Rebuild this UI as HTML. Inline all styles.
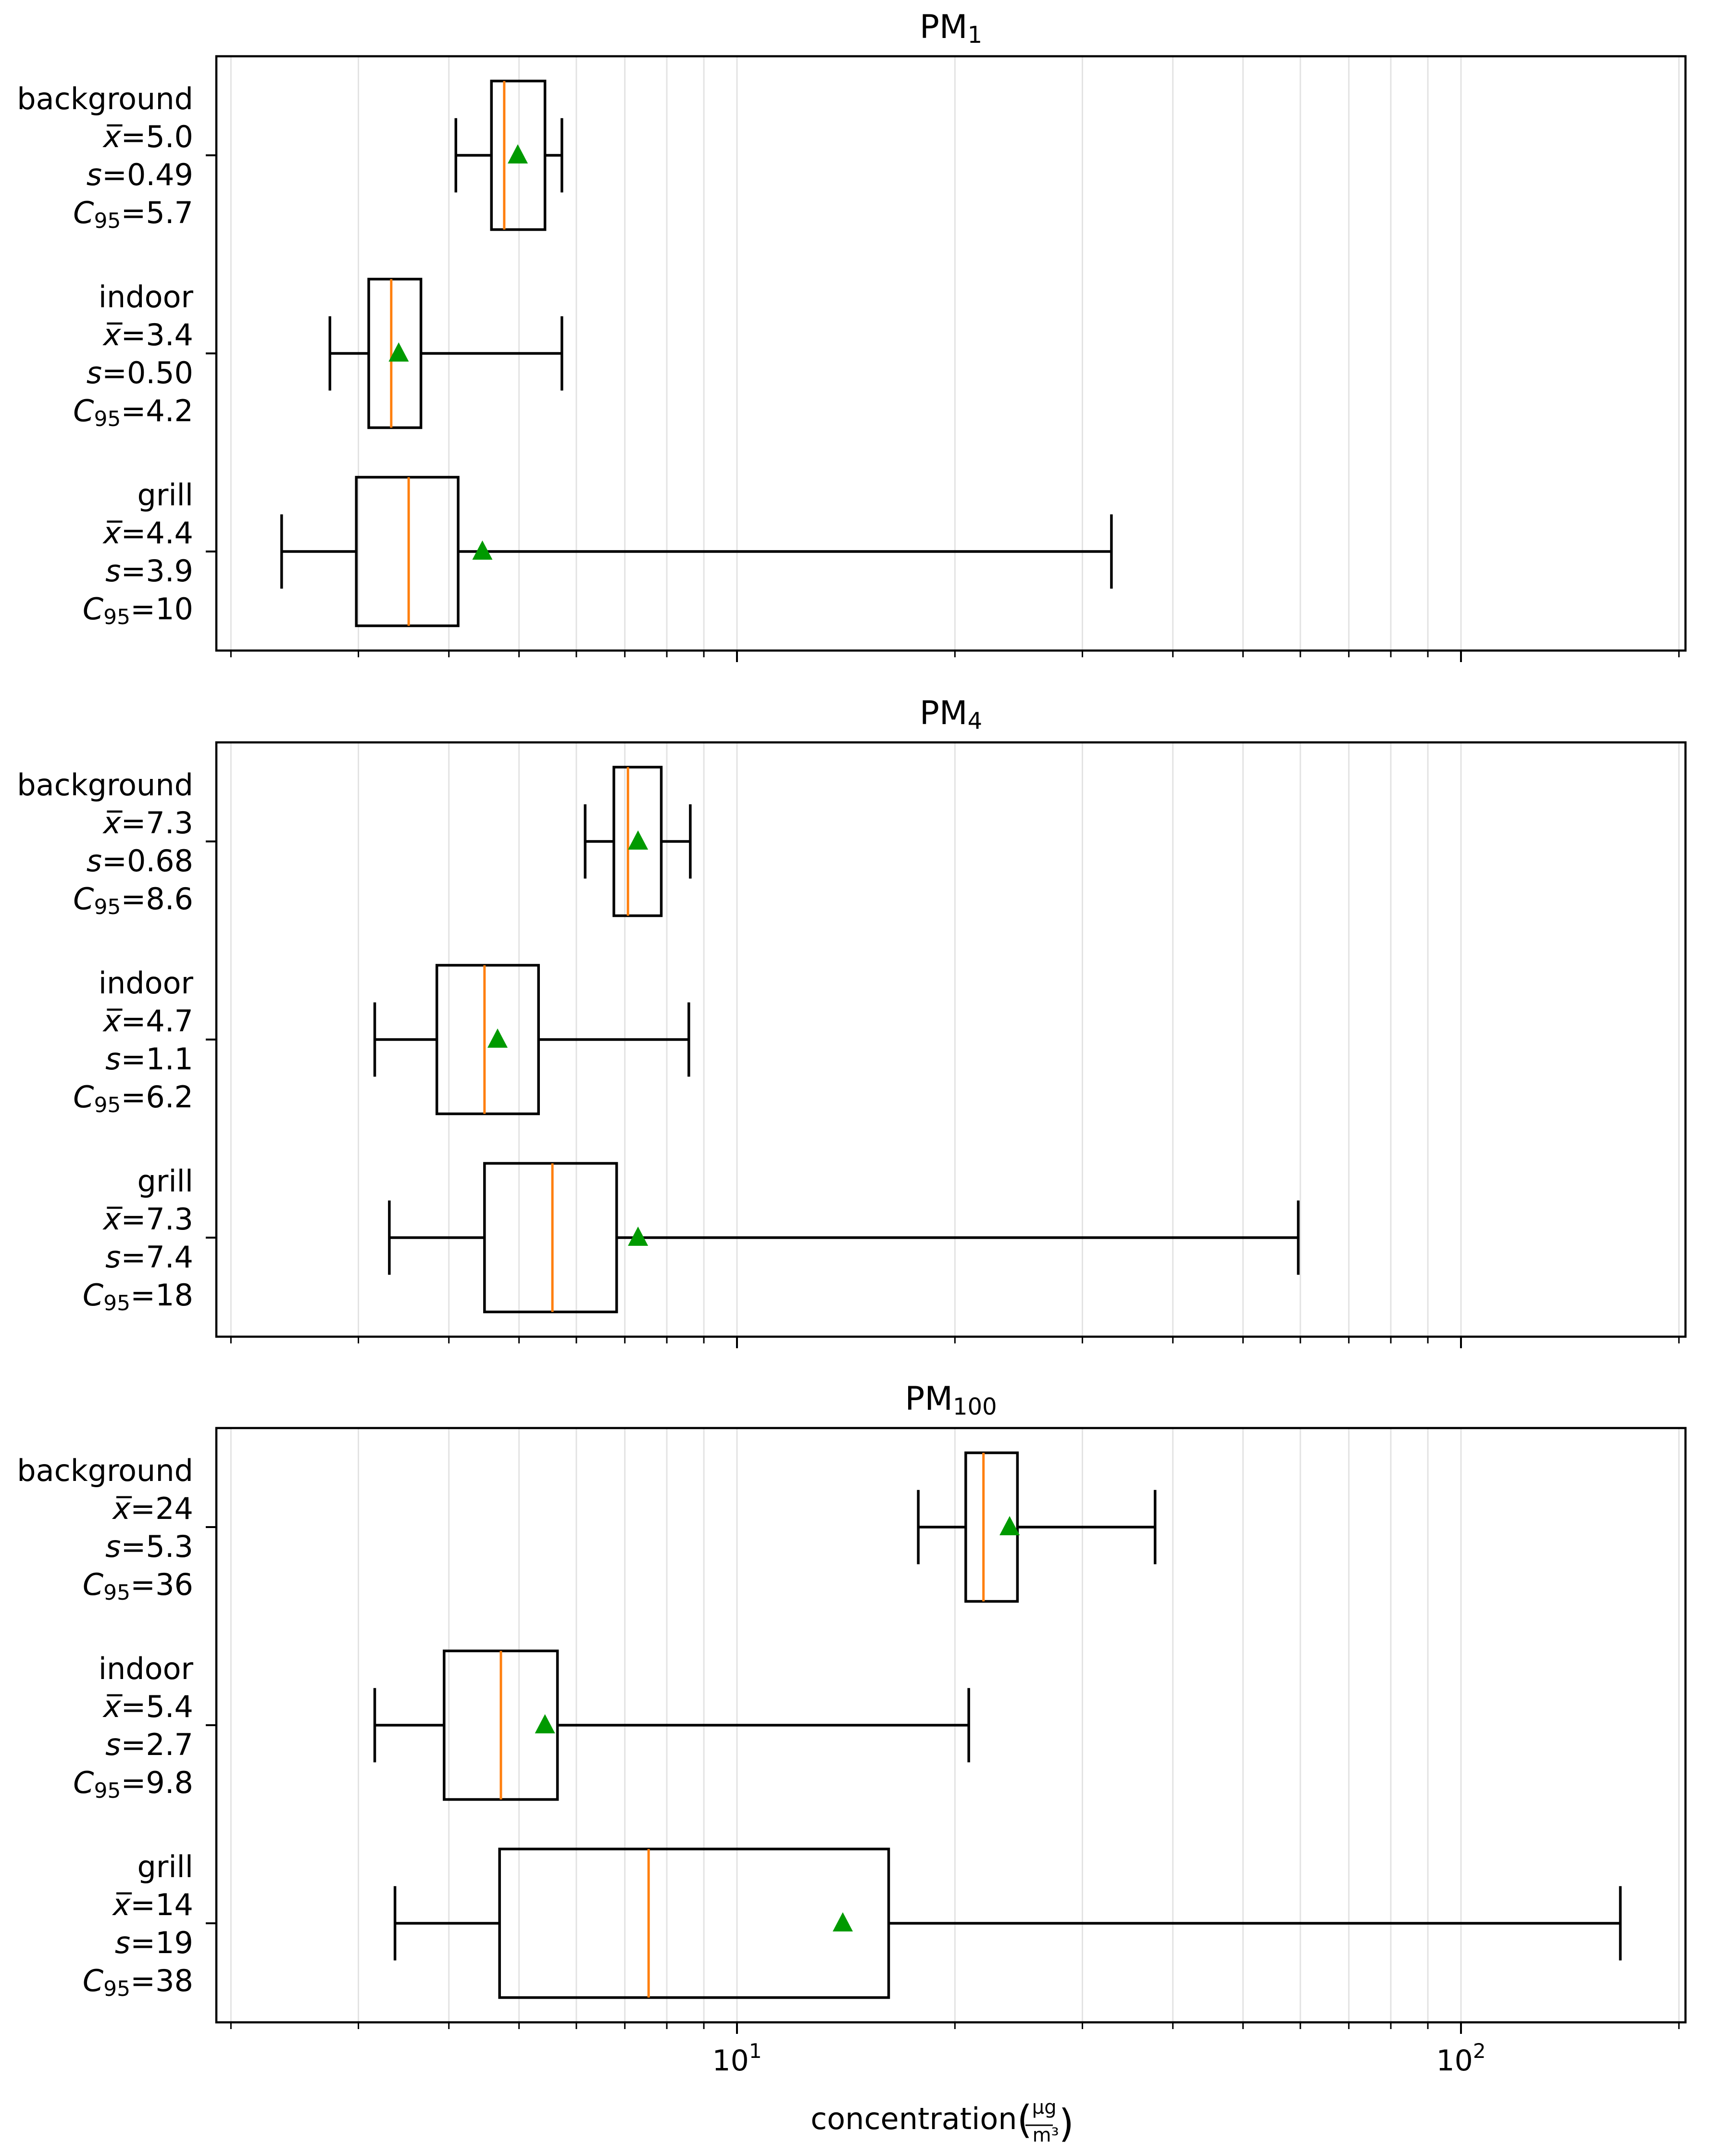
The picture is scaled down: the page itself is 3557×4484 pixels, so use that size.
<!DOCTYPE html>
<html><head><meta charset="utf-8"><style>
body{margin:0;background:#fff}
svg{display:block;font-family:"DejaVu Sans","Liberation Sans",sans-serif}
</style></head><body>
<svg id="chart" width="3557" height="4484" viewBox="0 0 3557 4484" xmlns="http://www.w3.org/2000/svg"></svg>
<script>
const panels = ["1", "4", "100"];
const categories = ["background", "indoor", "grill"];
const meanLabels = [["5.0","3.4","4.4"],["7.3","4.7","7.3"],["24","5.4","14"]];
const sdLabels = [["0.49","0.50","3.9"],["0.68","1.1","7.4"],["5.3","2.7","19"]];
const c95Labels = [["5.7","4.2","10"],["8.6","6.2","18"],["36","9.8","38"]];
const whiskerLo = [[4.09,2.74,2.35],[6.17,3.16,3.31],[17.8,3.16,3.37]];
const q1Vals = [[4.58,3.10,2.98],[6.76,3.85,4.48],[20.7,3.94,4.70]];
const medianVals = [[4.77,3.33,3.52],[7.07,4.48,5.56],[21.9,4.72,7.55]];
const q3Vals = [[5.43,3.66,4.12],[7.86,5.32,6.82],[24.4,5.65,16.2]];
const whiskerHi = [[5.73,5.73,32.9],[8.62,8.58,59.6],[37.8,20.9,166]];
const meanVals = [[4.98,3.41,4.45],[7.30,4.67,7.30],[23.8,5.43,14.0]];
const majorTicks = [10, 100];
const majorTickLabels = ["1", "2"];

const svg = document.getElementById('chart');
const NS = "http://www.w3.org/2000/svg";
const AX_L = 450, AX_R = 3506, X10 = 1533, DEC = 1506;
const panelTop = [117, 1544, 2970], PH = 1236;
function xs(v){ return X10 + (Math.log10(v) - 1) * DEC; }
function mk(tag, attrs, parent){ const e = document.createElementNS(NS, tag); for (const k in attrs) e.setAttribute(k, attrs[k]); (parent||svg).appendChild(e); return e; }

panels.forEach((p, pi) => {
  const top = panelTop[pi], bot = top + PH;
  const g = mk('g', {});
  
  
  const unit = PH / 3;
  function ys(i){ return top + unit * (i + 0.5); }
  for (let d = 2; d <= 200; d++) {
    let v;
    if (d <= 9) v = d; else if (d % 10 === 0 && d <= 90) v = d; else if (d === 100 || d === 200) v = d; else continue;
    const x = xs(v);
    if (x <= AX_L || x >= AX_R) continue;
    const gl = mk('line', {x1:x, x2:x, y1:top, y2:bot, stroke:'#e3e3e3', 'stroke-width':3}, g);
    
    
    const isMajor = majorTicks.includes(v);
    mk('line', {x1:x, x2:x, y1:bot, y2:bot + (isMajor ? 24 : 14), stroke:'#000', 'stroke-width':isMajor?4:3}, g);
  }
  const fr = mk('rect', {x:AX_L, y:top, width:AX_R-AX_L, height:PH, fill:'none', stroke:'#000', 'stroke-width':4.5}, g);
  
  
  const t = mk('text', {x:(AX_L+AX_R)/2, y:top - 38, 'font-size':68, 'text-anchor':'middle', fill:'#000'}, g);
  
  
  t.innerHTML = 'PM<tspan font-size="48" dy="10">' + p + '</tspan>';
  categories.forEach((c, ci) => {
    const y = ys(ci), bh = unit * 0.75, ch = bh / 2;
    const bg = mk('g', {}, g);
    
    
    const lo = xs(whiskerLo[pi][ci]), q1 = xs(q1Vals[pi][ci]), md = xs(medianVals[pi][ci]), q3 = xs(q3Vals[pi][ci]), hi = xs(whiskerHi[pi][ci]), mn = xs(meanVals[pi][ci]);
    const sw = 5.5;
    mk('line', {x1:lo, x2:q1, y1:y, y2:y, stroke:'#000', 'stroke-width':sw}, bg);
    mk('line', {x1:q3, x2:hi, y1:y, y2:y, stroke:'#000', 'stroke-width':sw}, bg);
    mk('line', {x1:lo, x2:lo, y1:y-ch/2, y2:y+ch/2, stroke:'#000', 'stroke-width':sw}, bg);
    mk('line', {x1:hi, x2:hi, y1:y-ch/2, y2:y+ch/2, stroke:'#000', 'stroke-width':sw}, bg);
    mk('rect', {x:q1, y:y-bh/2, width:q3-q1, height:bh, fill:'none', stroke:'#000', 'stroke-width':sw}, bg);
    const ml = mk('line', {x1:md, x2:md, y1:y-bh/2, y2:y+bh/2, stroke:'#ff7f0e', 'stroke-width':5}, bg);
    
    
    const tri = mk('polygon', {points:`${mn},${y-23} ${mn-21},${y+17} ${mn+21},${y+17}`, fill:'#009a00'}, bg);
    
    
    mk('line', {x1:AX_L-22, x2:AX_L, y1:y, y2:y, stroke:'#000', 'stroke-width':4}, g);
    const lab = mk('text', {x:402, 'font-size':62, 'text-anchor':'end', fill:'#000'}, g);
    
    
    const ly0 = y - 118 + 22;
    lab.innerHTML =
      `<tspan x="402" y="${ly0}">${c}</tspan>` +
      `<tspan x="402" y="${ly0+79}"><tspan font-style="italic">x&#x305;</tspan>=${meanLabels[pi][ci]}</tspan>` +
      `<tspan x="402" y="${ly0+158}"><tspan font-style="italic">s</tspan>=${sdLabels[pi][ci]}</tspan>` +
      `<tspan x="402" y="${ly0+237}"><tspan font-style="italic">C</tspan><tspan font-size="44" dy="10">95</tspan><tspan dy="-10">=${c95Labels[pi][ci]}</tspan></tspan>`;
  });
  if (pi === 2) {
    majorTicks.forEach((v, k) => {
      const tl = mk('text', {x:xs(v), y:bot + 100, 'font-size':60, 'text-anchor':'middle', fill:'#000'}, g);
      
      
      tl.innerHTML = '10<tspan font-size="42" dy="-26">' + majorTickLabels[k] + '</tspan>';
    });
    const xl = mk('text', {x:1960, y:4428, 'font-size':62, 'text-anchor':'middle', fill:'#000'}, g);
    
    
    xl.innerHTML = 'concentration<tspan font-size="80" dy="8">(</tspan><tspan font-size="40" dx="0" dy="-40">μg</tspan><tspan font-size="40" dx="-50" dy="58">m³</tspan><tspan font-size="80" dy="-10">)</tspan>';
    mk('line', {x1:2133, x2:2190, y1:4420, y2:4420, stroke:'#000', 'stroke-width':3}, g);
  }
});
</script>
</body></html>
